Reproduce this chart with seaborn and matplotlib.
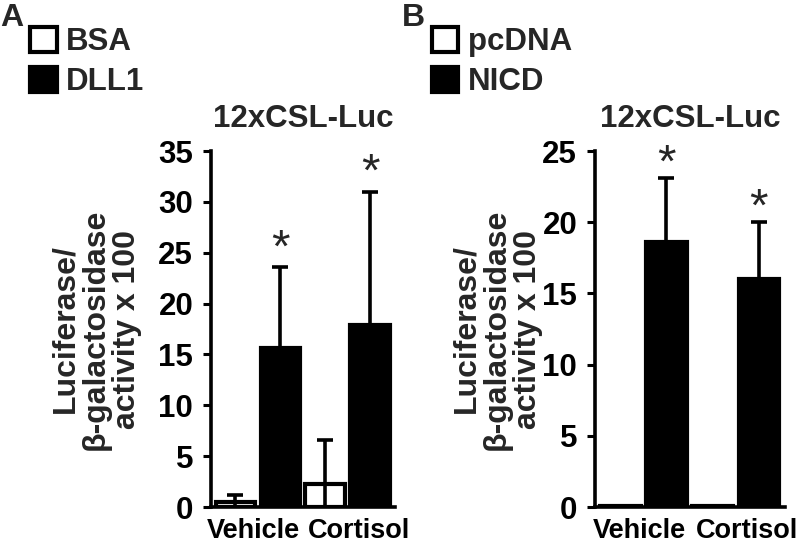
import matplotlib
matplotlib.use("Agg")
import matplotlib.pyplot as plt
import matplotlib.transforms as mtransforms
from matplotlib.patches import Patch
import pandas as pd
import seaborn as sns
import numpy as np

# values
groups = ["Vehicle", "Cortisol"]

a_levels = ["BSA", "DLL1"]
bsa_mean = [0.5, 2.3]
bsa_err = [0.7, 4.3]
dll1_mean = [15.6, 17.9]
dll1_err = [8.0, 13.1]
a_sig = [False, False, True, True]

b_levels = ["pcDNA", "NICD"]
pcdna_mean = [0.05, 0.05]
pcdna_err = [0.05, 0.05]
nicd_mean = [18.6, 16.0]
nicd_err = [4.5, 4.0]
b_sig = [False, False, True, True]

a_yticks = [0, 5, 10, 15, 20, 25, 30, 35]
b_yticks = [0, 5, 10, 15, 20, 25]

ylabel = "Luciferase/\nβ-galactosidase\nactivity x 100"
title = "12xCSL-Luc"

sns.set_theme(style="ticks")
plt.rcParams["font.family"] = ["Liberation Sans", "DejaVu Sans"]
plt.rcParams["font.weight"] = "bold"


def make_df(levels, means, errs):
    rows = []
    for lvl, m, e in zip(levels, means, errs):
        for g, mv, ev in zip(groups, m, e):
            rows.append({"treatment": g, "condition": lvl, "value": mv, "err": ev})
    return pd.DataFrame(rows)


def draw_panel(ax, df, levels, yticks, sig, star_off, label_x):
    sns.barplot(data=df, x="treatment", y="value", hue="condition",
                order=groups, hue_order=levels,
                palette={levels[0]: "white", levels[1]: "black"},
                edgecolor="black", linewidth=3, width=1.0, gap=0.12,
                errorbar=None, legend=False, ax=ax)
    # error bars and asterisks on top of the seaborn bars
    k = 0
    for lvl, cont in zip(levels, ax.containers):
        sub = df[df["condition"] == lvl].set_index("treatment").loc[groups]
        xs = [p.get_x() + p.get_width() / 2 for p in cont.patches]
        ax.errorbar(xs, sub["value"], yerr=sub["err"], fmt="none",
                    ecolor="black", elinewidth=2.6, capsize=5.5, capthick=2.6,
                    zorder=3)
        for x, v, e in zip(xs, sub["value"], sub["err"]):
            if sig[k]:
                ax.annotate("*", xy=(x, v + e), xytext=(0, star_off),
                            textcoords="offset points", ha="center",
                            va="baseline", fontsize=34, fontweight="normal",
                            annotation_clip=False)
            k += 1

    ax.set_xlim(-0.52, 1.53)
    ax.set_ylim(0, yticks[-1])
    ax.set_yticks(yticks)
    ax.set_xlabel("")
    ax.set_ylabel(ylabel, fontsize=23, fontweight="bold", linespacing=1.05)
    ax.yaxis.set_label_coords(label_x, 0.5)
    ax.set_title(title, fontsize=22.5, fontweight="bold", pad=17)
    sns.despine(ax=ax)
    for s in ["left", "bottom"]:
        ax.spines[s].set_linewidth(2.6)
        ax.spines[s].set_color("black")
    ax.tick_params(axis="y", length=6, width=2.2, pad=7, labelsize=22.5, colors="black")
    ax.tick_params(axis="x", length=0, pad=8, labelsize=19.5, colors="black")
    for t in ax.get_xticklabels() + ax.get_yticklabels():
        t.set_fontweight("bold")
    # nudge the two group labels apart a little, as in the original
    for t, dx in zip(ax.get_xticklabels(), [-4, 11]):
        t.set_transform(t.get_transform() +
                        mtransforms.ScaledTranslation(dx / 100, 0, ax.figure.dpi_scale_trans))


fig = plt.figure(figsize=(8, 5.46), dpi=100)
ax_a = fig.add_axes([0.264, 0.0714, 0.230, 0.652])
ax_b = fig.add_axes([0.744, 0.0714, 0.237, 0.652])

df_a = make_df(a_levels, [bsa_mean, dll1_mean], [bsa_err, dll1_err])
df_b = make_df(b_levels, [pcdna_mean, nicd_mean], [pcdna_err, nicd_err])

draw_panel(ax_a, df_a, a_levels, a_yticks, a_sig, 4, -0.375)
draw_panel(ax_b, df_b, b_levels, b_yticks, b_sig, 1, -0.274)

# panel letters and legends
for letter, x0, levels in [("A", 0.0, a_levels), ("B", 0.502, b_levels)]:
    fig.text(x0, 1 - 3 / 546, letter, ha="left", va="top",
             fontsize=23, fontweight="bold")
    handles = [Patch(facecolor="white", edgecolor="black", linewidth=3, label=levels[0]),
               Patch(facecolor="black", edgecolor="black", linewidth=3, label=levels[1])]
    fig.legend(handles=handles, loc="upper left",
               bbox_to_anchor=(x0 + 30 / 800, 1 - 27 / 546),
               frameon=False, prop={"size": 22.5, "weight": "bold"},
               handlelength=0.85, handleheight=0.85, handletextpad=0.3,
               labelspacing=0.3, borderpad=0, borderaxespad=0)

fig.savefig("out.png", dpi=100)
